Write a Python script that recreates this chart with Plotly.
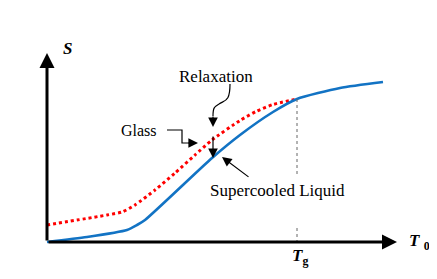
import plotly.graph_objects as go

# Temperature / entropy values (arbitrary units)
T_liquid = [0, 40, 80, 90, 98, 165, 193, 226, 250, 293, 336]
S_liquid = [0, 5, 12, 17, 22, 84, 107, 130, 143, 154, 160]

T_glass = [0, 60, 75, 88, 108, 128, 148, 165, 193, 210, 226, 250]
S_glass = [17, 27, 30, 37, 52, 69, 87, 102, 121.5, 131, 137.5, 143]

T_g = 250
x_axis_end = 350
y_axis_end = 189

SERIF = "Liberation Serif"

fig = go.Figure()

# Glass (dotted red) and supercooled liquid (solid blue)
fig.add_trace(go.Scatter(x=T_glass, y=S_glass, mode="lines",
                         line=dict(color="#ff0000", width=3, dash="dot", shape="spline", smoothing=0.6),
                         hoverinfo="skip", showlegend=False))
fig.add_trace(go.Scatter(x=T_liquid, y=S_liquid, mode="lines",
                         line=dict(color="#1273c4", width=2.6, shape="spline", smoothing=0.6),
                         hoverinfo="skip", showlegend=False))

# Tg dotted guide (two pieces, gap around the label)
fig.add_shape(type="line", x0=T_g, x1=T_g, y0=143, y1=67,
              line=dict(color="#666666", width=1, dash="dot"))
fig.add_shape(type="line", x0=T_g, x1=T_g, y0=14, y1=0,
              line=dict(color="#666666", width=1, dash="dot"))

# Glass pointer elbow
fig.add_shape(type="path", path="M 120,112 L 135,112 L 135,99 L 143,99",
              line=dict(color="black", width=1.2))
# Relaxation curved pointer
fig.add_shape(type="path", path="M 183,158 C 183,140 178,142 172,138 C 167,135 166,134 166,126",
              line=dict(color="black", width=1.2))

annotations = []
def arrow(x, y, ax, ay, width=1.2, size=1.0, head=2):
    annotations.append(dict(x=x, y=y, ax=ax, ay=ay, xref="x", yref="y", axref="x", ayref="y",
                            text="", showarrow=True, arrowhead=head, arrowsize=size,
                            arrowwidth=width, arrowcolor="black", standoff=0, startstandoff=0))

# Axes with arrowheads
arrow(x_axis_end, 0, 0, 0, width=3, size=1.0)
arrow(0, y_axis_end, 0, 0, width=3, size=1.0)
# Pointers
arrow(151, 99, 140, 99, width=1.2, size=1.6)
arrow(166, 115, 166, 127, width=1.2, size=1.6)
arrow(166, 84, 166, 107, width=1.2, size=1.6)
arrow(175, 85, 203, 64, width=1.2, size=1.6)

def label(x, y, text, size=16, xanchor="center"):
    annotations.append(dict(x=x, y=y, xref="x", yref="y", text=text, showarrow=False,
                            xanchor=xanchor, yanchor="middle",
                            font=dict(family=SERIF, size=size, color="black")))

label(20, 194, "<b><i>S</i></b>", size=17)
label(372, 0, "<b><i>T</i> <sub>0</sub></b>", size=17)
label(253, -15, "<b><i>T</i><sub>g</sub></b>", size=17)
label(169, 166, "Relaxation", size=17)
label(92, 112, "Glass", size=16)
label(230, 52, "Supercooled Liquid", size=17)

fig.update_layout(
    width=437, height=279, autosize=False,
    margin=dict(l=0, r=0, t=0, b=0),
    paper_bgcolor="white", plot_bgcolor="white",
    xaxis=dict(range=[-39, 398], visible=False, fixedrange=True),
    yaxis=dict(range=[-45, 234], visible=False, fixedrange=True),
    annotations=annotations,
)

fig.write_html("out.html")
